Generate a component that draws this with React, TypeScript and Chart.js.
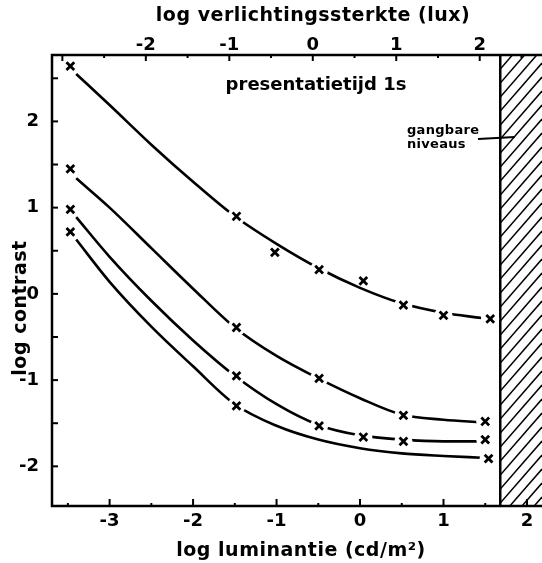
import React, { useEffect, useRef } from "react";
import { Chart, registerables } from "chart.js";

Chart.register(...registerables);

// axis ranges (log luminance on the bottom, log illuminance on top)
const X_MIN = -3.69;
const X_MAX = 2.18;
const Y_MIN = -2.46;
const Y_MAX = 2.77;
const LUX_OFFSET = 0.566;
const HATCH_FROM = 1.68;

// fitted curves
const curveX = [-3.4, -3, -2.5, -2, -1.5, -1, -0.5, 0, 0.5, 1, 1.45];
const curve1Y = [2.55, 2.19, 1.73, 1.3, 0.9, 0.58, 0.3, 0.07, -0.11, -0.22, -0.28];
const curve2Y = [1.34, 1.0, 0.53, 0.06, -0.39, -0.72, -0.98, -1.21, -1.4, -1.46, -1.49];
const curve3Y = [0.89, 0.43, -0.08, -0.54, -0.95, -1.28, -1.52, -1.64, -1.69, -1.71, -1.71];
const curve4Y = [0.63, 0.14, -0.38, -0.84, -1.28, -1.53, -1.69, -1.79, -1.85, -1.88, -1.9];

// measured points (x markers)
const mark1X = [-3.47, -1.48, -1.02, -0.49, 0.04, 0.52, 1.0, 1.56];
const mark1Y = [2.64, 0.9, 0.48, 0.28, 0.15, -0.13, -0.25, -0.29];
const mark1OnLine = [true, true, false, true, false, true, true, true];
const mark2X = [-3.47, -1.48, -0.49, 0.52, 1.5];
const mark2Y = [1.45, -0.39, -0.98, -1.41, -1.48];
const mark2OnLine = [true, true, true, true, true];
const mark3X = [-3.47, -1.48, -0.49, 0.04, 0.52, 1.5];
const mark3Y = [0.98, -0.95, -1.53, -1.66, -1.71, -1.69];
const mark3OnLine = [true, true, true, true, true, true];
const mark4X = [-3.47, -1.48, 1.54];
const mark4Y = [0.72, -1.3, -1.91];
const mark4OnLine = [true, true, true];

const TOP_TITLE = "log verlichtingssterkte (lux)";
const BOTTOM_TITLE = "log luminantie (cd/m²)";
const Y_TITLE = "log contrast";
const NOTE = "presentatietijd 1s";
const LEVEL_LABEL = ["gangbare", "niveaus"];

const FONT = '"DejaVu Sans"';

export default function App() {
  const ref = useRef<HTMLCanvasElement>(null);

  useEffect(() => {
    const canvas = ref.current;
    if (!canvas) return;

    const toPts = (xs: number[], ys: number[]) => xs.map((x, i) => ({ x, y: ys[i] }));
    const lineDs = (ys: number[]) => ({
      data: toPts(curveX, ys),
      showLine: true,
      borderColor: "#000",
      borderWidth: 2.6,
      pointRadius: 0,
      cubicInterpolationMode: "monotone",
      fill: false,
      order: 3,
    });
    const gapDs = (xs: number[], ys: number[], on: boolean[]) => ({
      data: toPts(xs, ys).filter((_, i) => on[i]),
      showLine: false,
      pointStyle: "circle",
      pointRadius: 9,
      pointBackgroundColor: "#fff",
      pointBorderWidth: 0,
      pointBorderColor: "#fff",
      order: 2,
    });
    const markDs = (xs: number[], ys: number[]) => ({
      data: toPts(xs, ys),
      showLine: false,
      pointStyle: "crossRot",
      pointRadius: 5.5,
      pointBorderColor: "#000",
      pointBorderWidth: 2.8,
      order: 1,
    });

    const decor = {
      id: "decor",
      beforeDatasetsDraw(chart: any) {
        const { ctx, chartArea } = chart;
        const xs = chart.scales.x;
        const hx = xs.getPixelForValue(HATCH_FROM);
        const top = chartArea.top;
        const bottom = chartArea.bottom;
        const right = chart.width;
        ctx.save();
        ctx.beginPath();
        ctx.rect(hx, top, right - hx, bottom - top);
        ctx.clip();
        ctx.strokeStyle = "#000";
        ctx.lineWidth = 1.5;
        const slope = 1.15;
        const w = right - hx;
        for (let y0 = top; y0 < bottom + slope * w + 20; y0 += 14) {
          ctx.beginPath();
          ctx.moveTo(hx, y0);
          ctx.lineTo(right, y0 - slope * w);
          ctx.stroke();
        }
        ctx.restore();
        ctx.save();
        ctx.strokeStyle = "#000";
        ctx.lineWidth = 2.5;
        ctx.beginPath();
        ctx.moveTo(hx, top);
        ctx.lineTo(hx, bottom);
        ctx.stroke();
        ctx.restore();
      },
      afterDraw(chart: any) {
        const { ctx, chartArea } = chart;
        const xs = chart.scales.x;
        const xt = chart.scales.x2;
        const ys = chart.scales.y;
        const { left, top, bottom } = chartArea;
        const right = chart.width;
        ctx.save();
        ctx.strokeStyle = "#000";
        ctx.lineWidth = 2.5;
        ctx.lineCap = "square";
        // frame (right side lies beyond the picture)
        ctx.beginPath();
        ctx.moveTo(right + 2, top);
        ctx.lineTo(left, top);
        ctx.lineTo(left, bottom);
        ctx.lineTo(right + 2, bottom);
        ctx.stroke();
        ctx.lineCap = "butt";
        ctx.lineWidth = 2;
        // ticks, inward
        for (let v = Math.ceil(xs.min * 2) / 2; v <= xs.max; v += 0.5) {
          const p = xs.getPixelForValue(v);
          const len = Number.isInteger(v) ? 7 : 3;
          ctx.beginPath();
          ctx.moveTo(p, bottom);
          ctx.lineTo(p, bottom - len);
          ctx.stroke();
        }
        for (let v = Math.ceil(xt.min * 2) / 2; v <= xt.max; v += 0.5) {
          const p = xt.getPixelForValue(v);
          const len = Number.isInteger(v) ? 6 : 3;
          ctx.beginPath();
          ctx.moveTo(p, top);
          ctx.lineTo(p, top + len);
          ctx.stroke();
        }
        for (let v = Math.ceil(ys.min * 2) / 2; v <= ys.max; v += 0.5) {
          const p = ys.getPixelForValue(v);
          ctx.beginPath();
          ctx.moveTo(left, p);
          ctx.lineTo(left + 6, p);
          ctx.stroke();
        }
        // texts
        ctx.fillStyle = "#000";
        ctx.textAlign = "center";
        ctx.textBaseline = "middle";
        ctx.font = `bold 19px ${FONT}`;
        (ctx as any).letterSpacing = "0.5px";
        ctx.fillText(TOP_TITLE, 313, 16);
        ctx.fillText(BOTTOM_TITLE, 301, 551);
        ctx.save();
        ctx.translate(21, 308);
        ctx.rotate(-Math.PI / 2);
        ctx.fillText(Y_TITLE, 0, 0);
        ctx.restore();
        (ctx as any).letterSpacing = "0px";
        ctx.font = `bold 18px ${FONT}`;
        ctx.fillText(NOTE, 316, 85);
        ctx.font = `bold 13px ${FONT}`;
        (ctx as any).letterSpacing = "0.3px";
        ctx.textAlign = "left";
        ctx.fillText(LEVEL_LABEL[0], 407, 131);
        ctx.fillText(LEVEL_LABEL[1], 407, 145);
        (ctx as any).letterSpacing = "0px";
        ctx.lineWidth = 1.8;
        ctx.beginPath();
        ctx.moveTo(478, 139);
        ctx.lineTo(515, 137);
        ctx.stroke();
        ctx.restore();
      },
    };

    const tickFont = { family: FONT, size: 18, weight: "bold" };
    const fmt = (v: any) => String(Math.round(Number(v)));
    const noPad = (s: any) => {
      s.paddingLeft = 0;
      s.paddingRight = 0;
      s.paddingTop = 0;
      s.paddingBottom = 0;
    };

    const chart = new Chart(canvas, {
      type: "scatter",
      data: {
        datasets: [
          markDs(mark1X, mark1Y),
          markDs(mark2X, mark2Y),
          markDs(mark3X, mark3Y),
          markDs(mark4X, mark4Y),
          gapDs(mark1X, mark1Y, mark1OnLine),
          gapDs(mark2X, mark2Y, mark2OnLine),
          gapDs(mark3X, mark3Y, mark3OnLine),
          gapDs(mark4X, mark4Y, mark4OnLine),
          lineDs(curve1Y),
          lineDs(curve2Y),
          lineDs(curve3Y),
          lineDs(curve4Y),
        ] as any,
      },
      options: {
        responsive: false,
        animation: false,
        devicePixelRatio: 1,
        events: [],
        layout: { padding: 0, autoPadding: false },
        plugins: { legend: { display: false }, tooltip: { enabled: false } },
        scales: {
          x: {
            type: "linear",
            position: "bottom",
            min: X_MIN,
            max: X_MAX,
            grid: { display: false, drawTicks: false },
            border: { display: false },
            ticks: {
              stepSize: 1,
              includeBounds: false,
              color: "#000",
              font: tickFont,
              padding: 5,
              maxRotation: 0,
              autoSkip: false,
              callback: fmt,
            },
            afterFit: (s: any) => {
              s.height = 57;
              noPad(s);
            },
          },
          x2: {
            type: "linear",
            position: "top",
            min: X_MIN + LUX_OFFSET,
            max: X_MAX + LUX_OFFSET,
            grid: { display: false, drawTicks: false },
            border: { display: false },
            ticks: {
              stepSize: 1,
              includeBounds: false,
              color: "#000",
              font: tickFont,
              padding: -1,
              maxRotation: 0,
              autoSkip: false,
              callback: fmt,
            },
            afterBuildTicks: (s: any) => {
              s.ticks = s.ticks.filter((t: any) => t.value >= -2);
            },
            afterFit: (s: any) => {
              s.height = 55;
              noPad(s);
            },
          },
          y: {
            type: "linear",
            position: "left",
            min: Y_MIN,
            max: Y_MAX,
            grid: { display: false, drawTicks: false },
            border: { display: false },
            ticks: {
              stepSize: 1,
              includeBounds: false,
              color: "#000",
              font: tickFont,
              padding: 13,
              autoSkip: false,
              callback: fmt,
            },
            afterFit: (s: any) => {
              s.width = 52;
              noPad(s);
            },
          },
        },
      } as any,
      plugins: [decor],
    });

    return () => chart.destroy();
  }, []);

  return (
    <div style={{ position: "absolute", left: 0, top: 0, width: 542, height: 563, background: "#fff" }}>
      <canvas ref={ref} width={542} height={563} style={{ display: "block" }} />
    </div>
  );
}
